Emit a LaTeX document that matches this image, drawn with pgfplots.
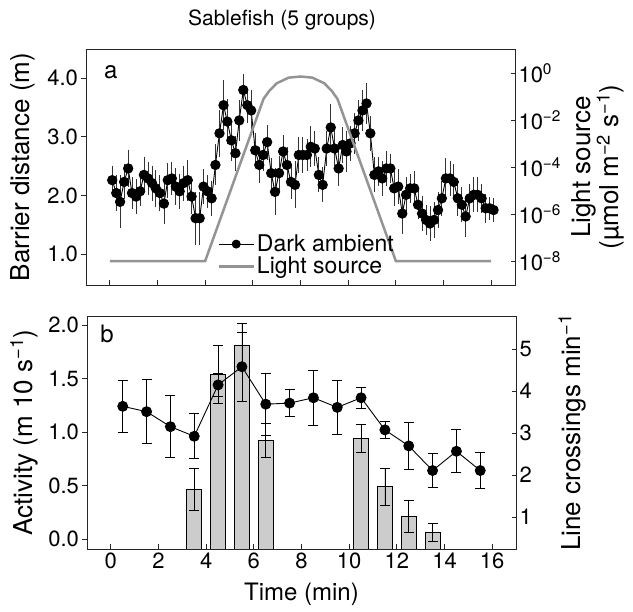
\documentclass[border=0pt]{standalone}
\usepackage{fontspec}
\setmainfont{TeX Gyre Heros}
\usepackage{pgfplots}
\pgfplotsset{compat=1.18}
\usepackage{pgfplotstable}
\newcommand\fs{\fontsize{22}{25}\selectfont}
\newcommand\fl{\fontsize{26}{23}\selectfont}
\newcommand\fg{\fontsize{23}{24}\selectfont}

\pgfplotstableread{
x y e
0.10 2.26 0.25
0.27 2.04 0.30
0.43 1.89 0.45
0.60 2.23 0.30
0.77 2.46 0.31
0.93 2.04 0.28
1.10 1.98 0.30
1.27 2.07 0.25
1.43 2.35 0.30
1.60 2.29 0.28
1.77 2.21 0.30
1.93 2.12 0.32
2.10 2.04 0.30
2.27 1.86 0.35
2.43 2.26 0.30
2.60 2.29 0.28
2.77 2.15 0.32
2.93 2.07 0.30
3.10 2.21 0.30
3.27 2.26 0.35
3.43 1.98 0.30
3.60 1.61 0.45
3.77 1.61 0.45
3.93 2.15 0.30
4.10 2.07 0.28
4.27 1.95 0.30
4.43 2.52 0.35
4.60 3.06 0.40
4.77 3.54 0.43
4.93 3.26 0.38
5.10 2.94 0.35
5.27 2.72 0.30
5.43 3.28 0.35
5.60 3.80 0.28
5.77 3.54 0.30
5.93 3.45 0.35
6.10 2.77 0.30
6.27 2.52 0.30
6.43 2.69 0.28
6.60 2.91 0.30
6.77 2.38 0.25
6.93 2.06 0.40
7.10 2.38 0.30
7.27 2.75 0.28
7.43 2.52 0.30
7.60 2.23 0.30
7.77 2.18 0.40
7.93 2.69 0.30
8.10 2.69 0.30
8.27 2.69 0.28
8.43 2.83 0.35
8.60 2.80 0.30
8.77 2.35 0.30
8.93 2.18 0.30
9.10 2.80 0.30
9.27 3.16 0.40
9.43 2.80 0.30
9.60 2.46 0.30
9.77 2.86 0.30
9.93 2.75 0.35
10.10 2.89 0.30
10.27 3.06 0.35
10.43 3.28 0.35
10.60 3.45 0.35
10.77 3.57 0.35
10.93 3.06 0.30
11.10 2.35 0.30
11.27 2.41 0.25
11.43 2.29 0.30
11.60 2.46 0.30
11.77 2.46 0.25
11.93 2.12 0.30
12.10 2.15 0.30
12.27 1.69 0.35
12.43 2.01 0.30
12.60 2.12 0.25
12.77 2.12 0.30
12.93 1.84 0.25
13.10 1.69 0.30
13.27 1.58 0.25
13.43 1.52 0.30
13.60 1.58 0.30
13.77 1.75 0.30
13.93 1.95 0.30
14.10 2.29 0.35
14.27 2.29 0.30
14.43 2.23 0.30
14.60 1.95 0.30
14.77 1.84 0.30
14.93 1.64 0.35
15.10 1.95 0.25
15.27 2.01 0.30
15.43 2.01 0.30
15.60 1.95 0.25
15.77 1.78 0.25
15.93 1.78 0.20
16.10 1.75 0.20
}\dark

\pgfplotstableread{
x l
0 -8
4 -8
6.45 -1.1
6.7 -0.75
7.0 -0.44
7.5 -0.2
8.0 -0.15
8.5 -0.2
9.0 -0.44
9.3 -0.75
9.55 -1.1
12.0 -8
16 -8
}\light

\pgfplotstableread{
x y e
0.5 1.24 0.24
1.5 1.19 0.30
2.5 1.05 0.29
3.5 0.96 0.21
4.5 1.44 0.11
5.5 1.61 0.32
6.5 1.26 0.29
7.5 1.27 0.125
8.5 1.32 0.26
9.5 1.23 0.25
10.5 1.32 0.10
11.5 1.02 0.08
12.5 0.87 0.22
13.5 0.64 0.16
14.5 0.82 0.20
15.5 0.64 0.165
}\act

\pgfplotstableread{
x y e
3.5 1.67 0.50
4.5 4.40 0.69
5.5 5.10 0.52
6.5 2.82 0.41
10.5 2.87 0.33
11.5 1.72 0.44
12.5 1.02 0.38
13.5 0.63 0.21
}\bars

\pgfplotsset{
  mystyle/.style={
    scale only axis, xmin=-1, xmax=17,
    tick label style={font=\fs},
    label style={font=\fl},
    axis line style={black!85, line width=0.8pt},
    major tick length=4.5pt,
    tick style={black!85, line width=0.8pt},
  },
  legend image code/.code={\draw[mark repeat=2,mark phase=2,#1] plot coordinates {(0pt,0pt) (17.5pt,0pt) (35pt,0pt)};},
}

\begin{document}
\begin{tikzpicture}
\path[use as bounding box] (0pt,0pt) rectangle (633pt,612pt);

% ---------- panel a, left axis
\begin{axis}[mystyle, at={(86pt,327pt)}, anchor=south west, width=429pt, height=236pt,
  ymin=0.47, ymax=4.5, tick align=outside, xtick=\empty, ytick pos=left,
  ytick={1,2,3,4}, yticklabels={1.0,2.0,3.0,4.0},
  ylabel={Barrier distance (m)},
  ylabel style={at={(axis description cs:-0.147,0.5)}, anchor=center}]
\addplot[black, line width=0.9pt, mark=*, mark size=4.7pt,
  error bars/.cd, y dir=both, y explicit, error mark=none,
  error bar style={black!80, line width=0.8pt}]
  table[x=x, y=y, y error=e] {\dark};
\node[font=\fontsize{24}{24}\selectfont] at (axis description cs:0.058,0.90) {a};
\end{axis}

% ---------- panel a, right axis
\begin{axis}[mystyle, at={(86pt,327pt)}, anchor=south west, width=429pt, height=236pt,
  ymin=-9.02, ymax=1.02, tick align=inside,
  xtick={0,2,...,16}, xticklabels={}, xtick pos=left,
  ytick pos=right, yticklabel pos=right,
  ytick={-8,-6,-4,-2,0},
  yticklabels={10\textsuperscript{−8},10\textsuperscript{−6},10\textsuperscript{−4},10\textsuperscript{−2},10\textsuperscript{0}},
  ylabel={Light source\\(µmol m\textsuperscript{−2} s\textsuperscript{−1})},
  ylabel style={align=center, at={(axis description cs:1.193,0.5)}, anchor=center},
  legend style={draw=none, fill=none, at={(axis description cs:0.306,0.215)}, anchor=north west, font=\fg, row sep=3pt, inner sep=0pt,
    nodes={inner ysep=0.5pt}},
  legend cell align=left]
\addlegendimage{black, line width=0.9pt, mark=*, mark size=4pt}
\addlegendentry{Dark ambient}
\addplot[black!42, line width=2.5pt] table[x=x, y=l] {\light};
\addlegendentry{Light source}
\end{axis}

% ---------- panel b, right axis (bars)
\begin{axis}[mystyle, at={(87pt,63pt)}, anchor=south west, width=429pt, height=233pt,
  ymin=0.24, ymax=5.79, tick align=inside,
  xtick={0,2,...,16}, xticklabels={0,2,4,6,8,10,12,14,16}, xtick pos=left,
  ytick pos=right, yticklabel pos=right,
  ytick={1,2,3,4,5}, yticklabels={1,2,3,4,5},
  ylabel={Line crossings min\textsuperscript{−1}},
  ylabel style={at={(axis description cs:1.131,0.5)}, anchor=center},
  xlabel={Time (min)},
  xlabel style={font=\fontsize{24}{24}\selectfont, at={(axis description cs:0.5,-0.193)}, anchor=center}]
\addplot[ybar, bar width=15pt, fill=black!20, draw=black, line width=0.8pt,
  error bars/.cd, y dir=both, y explicit,
  error bar style={black, line width=0.8pt},
  error mark options={rotate=90, black, mark size=5pt, line width=0.8pt}]
  table[x=x, y=y, y error=e] {\bars};
\end{axis}

% ---------- panel b, left axis (activity)
\begin{axis}[mystyle, at={(87pt,63pt)}, anchor=south west, width=429pt, height=233pt,
  ymin=-0.093, ymax=2.084, tick align=outside, xtick=\empty, ytick pos=left,
  ytick={0,0.5,1,1.5,2}, yticklabels={0.0,0.5,1.0,1.5,2.0},
  ylabel={Activity (m 10 s\textsuperscript{−1})},
  ylabel style={at={(axis description cs:-0.147,0.5)}, anchor=center}]
\addplot[black, line width=0.9pt, mark=*, mark size=5pt,
  error bars/.cd, y dir=both, y explicit,
  error bar style={black, line width=0.8pt},
  error mark options={rotate=90, black, mark size=5pt, line width=0.8pt}]
  table[x=x, y=y, y error=e] {\act};
\node[font=\fontsize{24}{24}\selectfont] at (axis description cs:0.047,0.925) {b};
\end{axis}

\node[font=\fontsize{21}{24}\selectfont] at (282pt,592pt) {Sablefish (5 groups)};
\end{tikzpicture}
\end{document}
